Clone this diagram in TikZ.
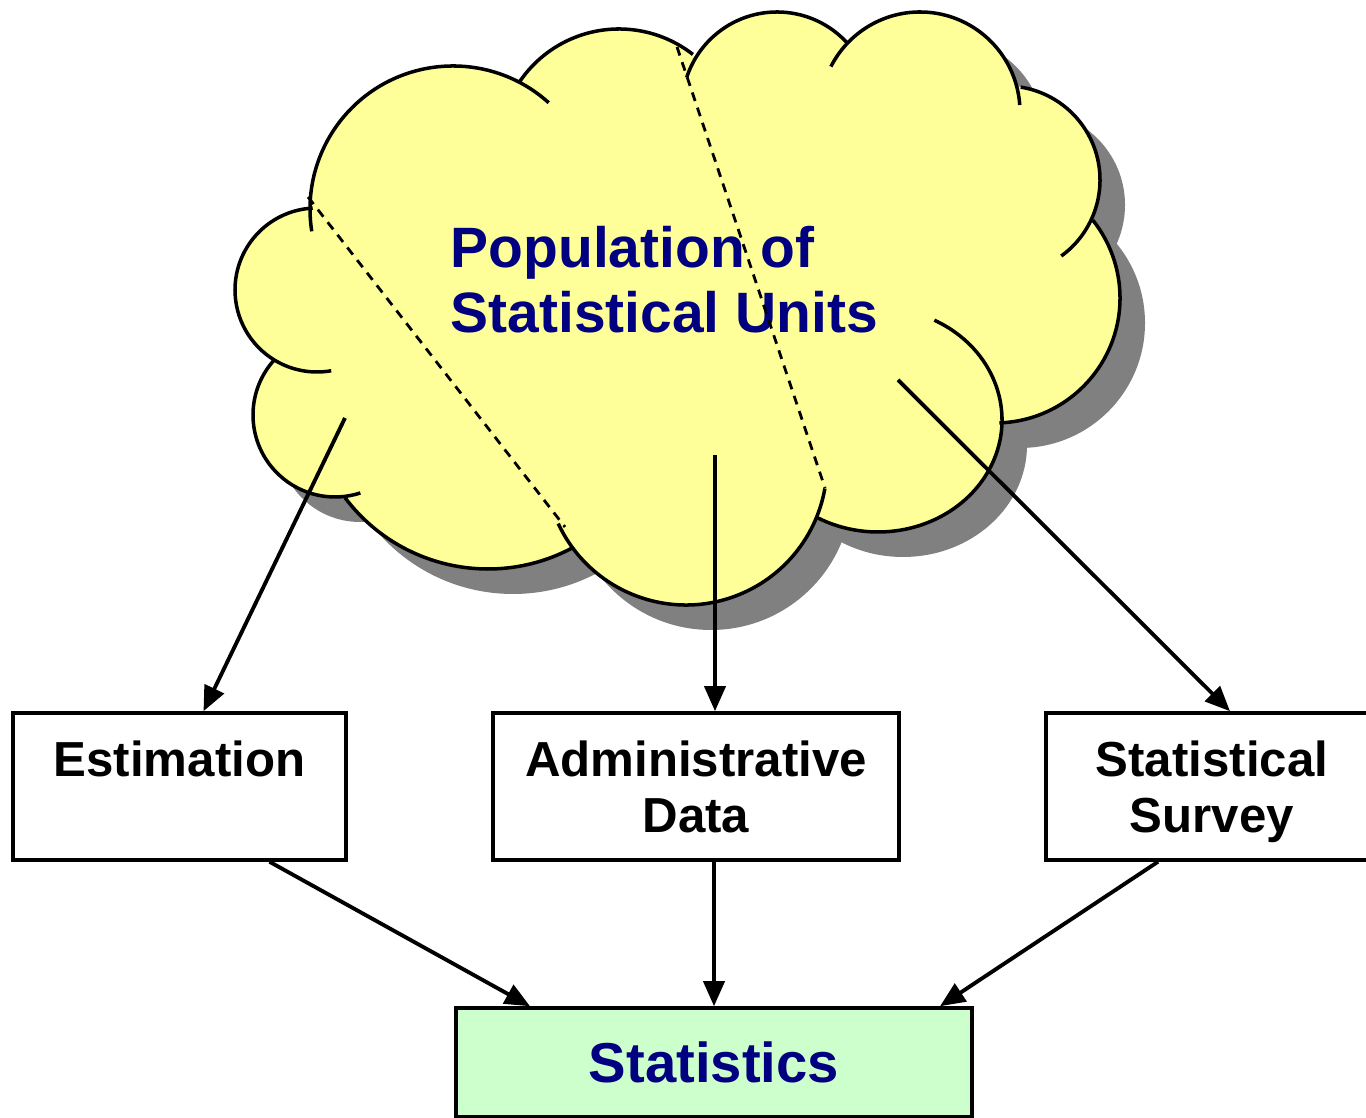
\documentclass[tikz,border=0pt]{standalone}
\usepackage{fontspec}
\setmainfont{Liberation Sans}
\usetikzlibrary{arrows.meta,calc}

\definecolor{cloudyellow}{RGB}{255,255,153}
\definecolor{shadowgray}{RGB}{128,128,128}
\definecolor{statgreen}{RGB}{204,255,204}
\definecolor{textnavy}{RGB}{0,0,128}

\newcommand{\cloudshape}[1]{%
  \fill[#1] (3.13,9.09) -- (2.77,7.58) -- (3.45,6.21) -- (5.72,5.70) -- (8.18,6.01) -- (10.00,6.95)
    -- (10.92,8.95) -- (10.20,10.31) -- (8.47,10.75) -- (6.90,10.61) -- (5.20,10.36) -- cycle;
  \fill[#1] (3.17,8.28) circle (0.82);
  \fill[#1] (3.35,7.03) circle (0.82);
  \fill[#1] (4.88,7.28) circle (1.79);
  \fill[#1] (6.86,6.54) circle (1.41);
  \fill[#1] (8.78,6.98) ellipse [x radius=1.24, y radius=1.12];
  \fill[#1] (9.95,8.20) circle (1.25);
  \fill[#1] (10.06,9.38) circle (0.94);
  \fill[#1] (9.20,10.06) circle (1.00);
  \fill[#1] (7.77,10.11) circle (0.95);
  \fill[#1] (6.19,9.69) circle (1.20);
  \fill[#1] (4.53,9.09) circle (1.43);
}

\tikzset{
  cloudline/.style={line width=1pt},
  splitline/.style={line width=0.8pt, dash pattern=on 0.09cm off 0.07cm},
  flow/.style={line width=1.1pt, -{Triangle[length=0.25cm,width=0.21cm]}},
  sourcebox/.style={draw, line width=1pt, minimum height=1.47cm, align=center, text depth=0pt,
    font=\bfseries\fontsize{14}{15.9}\selectfont},
}

\begin{document}
\begin{tikzpicture}
    \useasboundingbox (0,0) rectangle (13.66,11.18);

    \cloudshape{shadowgray, shift={(0.25,-0.25)}}
    \cloudshape{cloudyellow}

    \node[anchor=west, inner sep=0pt, align=left, text=textnavy,
          font=\bfseries\fontsize{16.2}{18.5}\selectfont] (pop) at (4.50,8.38)
          {Population of\\Statistical Units};

    \draw[splitline] (3.08,9.21) -- (5.65,5.91);
    \draw[splitline] (6.77,10.71) -- (8.25,6.30);

    \draw[cloudline] (3.17,8.28) ++(93:0.82) arc[start angle=93, end angle=280, radius=0.82];
    \draw[cloudline] (3.35,7.03) ++(137:0.82) arc[start angle=137, end angle=288, radius=0.82];
    \draw[cloudline] (4.88,7.28) ++(217:1.79) arc[start angle=217, end angle=298, radius=1.79];
    \draw[cloudline] (6.86,6.54) ++(205:1.41) arc[start angle=205, end angle=350, radius=1.41];
    \draw[cloudline] (8.78,6.98) ++(63:1.24 and 1.12) arc[start angle=63, end angle=-119, x radius=1.24, y radius=1.12];
    \draw[cloudline] (9.95,8.20) ++(-88:1.25) arc[start angle=-88, end angle=38.5, radius=1.25];
    \draw[cloudline] (10.06,9.38) ++(-54:0.94) arc[start angle=-54, end angle=81, radius=0.94];
    \draw[cloudline] (9.20,10.06) ++(4:1.00) arc[start angle=4, end angle=153, radius=1.00];
    \draw[cloudline] (7.77,10.11) ++(42:0.95) arc[start angle=42, end angle=162, radius=0.95];
    \draw[cloudline] (6.19,9.69) ++(52:1.20) arc[start angle=52, end angle=146, radius=1.20];
    \draw[cloudline] (4.53,9.09) ++(48:1.43) arc[start angle=48, end angle=189, radius=1.43];

    \coordinate (srcE) at (3.45,7.00);
    \coordinate (srcA) at (7.15,6.63);
    \coordinate (srcS) at (8.98,7.38);

    \node[sourcebox, minimum width=3.33cm] (est) at (1.795,3.315) {Estimation\\\phantom{Data}};
    \node[sourcebox, minimum width=4.06cm] (adm) at (6.96,3.315) {Administrative\\Data};
    \node[sourcebox, minimum width=3.32cm] (surv) at (12.12,3.315) {Statistical\\Survey};
    \node[draw, line width=1pt, fill=statgreen, minimum width=5.16cm, minimum height=1.09cm,
          text=textnavy, font=\bfseries\fontsize{16}{19}\selectfont] (stat) at (7.14,0.555) {Statistics};

    \draw[flow] (srcE) -- ($(est.north)+(0.24,0)$);
    \draw[flow] (srcA) -- (srcA |- adm.north);
    \draw[flow] (srcS) -- ($(surv.north)+(0.18,0)$);

    \draw[flow] ($(est.south)+(0.9,0)$) -- ($(stat.north)+(-1.84,0)$);
    \draw[flow] (stat.north |- adm.south) -- (stat.north);
    \draw[flow] ($(surv.south)+(-0.54,0)$) -- ($(stat.north)+(2.26,0)$);
\end{tikzpicture}
\end{document}
